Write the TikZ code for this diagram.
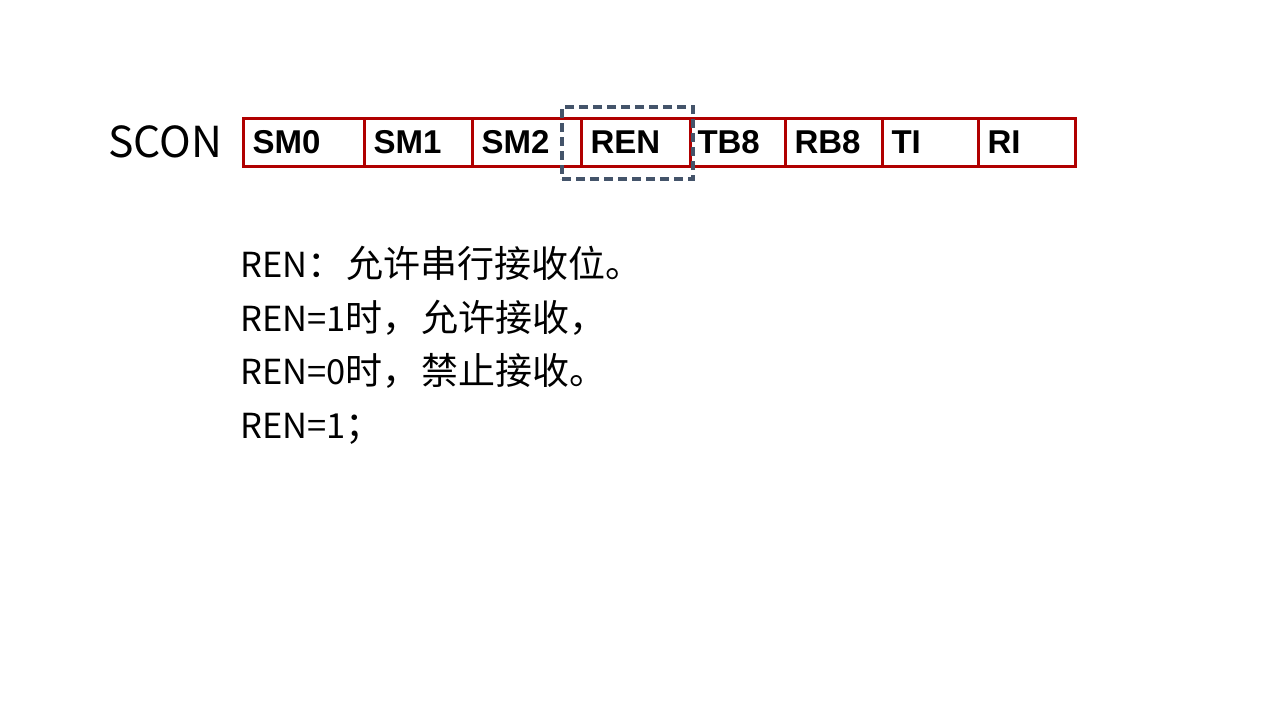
\documentclass[tikz,border=0pt]{standalone}
\usepackage{fontspec}
\setmainfont{Noto Sans CJK SC}
\newfontfamily\cellfont{Liberation Sans}
\newcommand\zhtext[1]{{\fontsize{37}{40}\selectfont #1}}
\definecolor{regred}{HTML}{B00000}
\definecolor{selgray}{HTML}{44546A}
\begin{document}
\begin{tikzpicture}[x=1pt,y=-1pt,
  cell/.style={draw=regred, line width=3pt, anchor=west, minimum height=48pt,
    inner xsep=9pt, inner ysep=0pt, align=left, text height=23pt, text depth=0pt,
    font=\cellfont\bfseries\fontsize{33}{36}\selectfont},
  selbox/.style={draw=selgray, line width=3.5pt, dash pattern=on 9pt off 5pt,
    minimum width=131pt, minimum height=72pt, inner sep=0pt},
  bodytext/.style={anchor=base west, inner sep=0pt, font=\fontsize{34.5}{38}\selectfont},
  title/.style={anchor=base west, inner sep=0pt, font=\fontsize{42.7}{48}\selectfont}]
\useasboundingbox (0,0) rectangle (1280,720);
\fill[white] (0,0) rectangle (1280,720);
\node[title] (scon) at (108,157) {SCON};
\node[cell, text width=103pt] (sm0) at (242,142) {SM0};
\node[cell, text width=90pt]  (sm1) at (363,142) {SM1};
\node[cell, text width=91pt]  (sm2) at (471,142) {SM2};
\node[cell, text width=91pt]  (ren) at (580,142) {REN};
\node[cell, text width=77pt]  (tb8) at (689,142) {\hspace*{-2pt}TB8};
\node[cell, text width=79pt]  (rb8) at (784,142) {RB8};
\node[cell, text width=78pt]  (ti)  at (881,142) {TI};
\node[cell, text width=79pt]  (ri)  at (977,142) {RI};
\node[selbox] (sel) at (627.5,143) {};
\node[bodytext] (l1) at (240,277) {REN\zhtext{：\hspace{2pt}允许串行接收位。}};
\node[bodytext] (l2) at (240,331) {REN=1\zhtext{时，\hspace{2pt}允许接收，}};
\node[bodytext] (l3) at (240,384.5) {REN=0\zhtext{时，\hspace{2pt}禁止接收。}};
\node[bodytext] (l4) at (240,438) {REN=1\zhtext{；}};
\end{tikzpicture}
\end{document}
